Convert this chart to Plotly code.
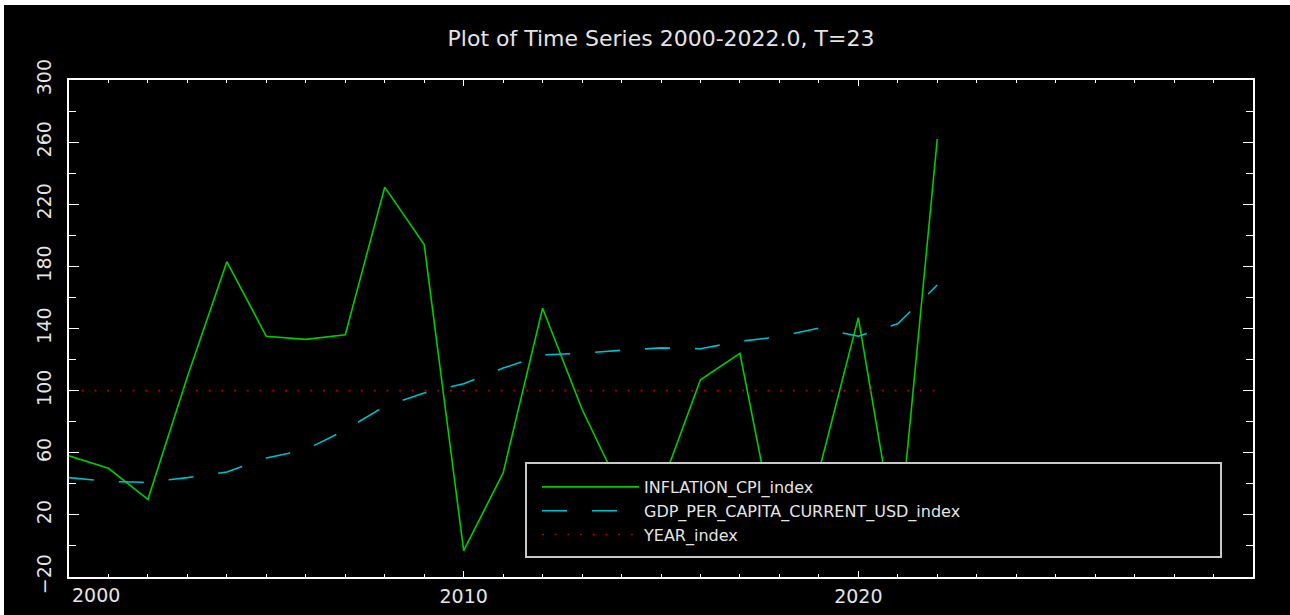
import plotly.graph_objects as go

# Annual series, 2000-2022 (T=23)
years = list(range(2000, 2023))
inflation_cpi_index = [58, 50, 30, 109, 183, 135, 133, 136, 231, 194, -3, 47,
                       153, 88, 35, 38, 107, 124, -5, 48, 147, -3, 262]
gdp_per_capita_current_usd_index = [44, 41.5, 41, 44, 47.6, 56.6, 62, 74.6, 90, 98.5,
                                    104.4, 114.5, 123, 124, 126, 127.5, 127, 131.7,
                                    134.7, 140.3, 135, 143, 168]
year_index = [100] * 23

x_range = [2000, 2030]
y_range = [-20, 300]
x_major_ticks = [2010, 2020]
y_major_ticks = [-20, 20, 60, 100, 140, 180, 220, 260, 300]

W, H = 1290, 615
L, R, T, B = 69, 37, 80, 38
PW, PH = W - L - R, H - T - B

TXT = "#e4e4e4"
FONT = "DejaVu Sans"


def px_x(px):
    return (px - L) / PW


def px_y(py):
    return (H - B - py) / PH


fig = go.Figure()
fig.add_trace(go.Scatter(
    x=years, y=inflation_cpi_index, mode="lines", name="INFLATION_CPI_index",
    line=dict(color="#00cc00", width=1.6)))
fig.add_trace(go.Scatter(
    x=years, y=gdp_per_capita_current_usd_index, mode="lines",
    name="GDP_PER_CAPITA_CURRENT_USD_index",
    line=dict(color="#00bfcc", width=1.6, dash="25px,25px")))
fig.add_trace(go.Scatter(
    x=years, y=year_index, mode="lines", name="YEAR_index",
    line=dict(color="#b40000", width=1.6, dash="2px,10.7px")))

axis_common = dict(
    showgrid=False, zeroline=False, showline=True, linecolor="white",
    linewidth=2, mirror="ticks", ticks="inside", tickcolor="white",
    automargin=False,
    tickfont=dict(family=FONT, size=19, color=TXT),
)

fig.update_xaxes(
    range=x_range, tickmode="array", tickvals=x_major_ticks,
    ticklen=6, tickwidth=1,
    minor=dict(tick0=2000, dtick=1, ticks="inside", ticklen=3,
               tickcolor="white", tickwidth=1),
    ticklabelstandoff=1,
    **axis_common)
fig.update_yaxes(
    range=y_range, tickmode="array", tickvals=y_major_ticks,
    ticklen=10, tickwidth=1, tickangle=-90,
    minor=dict(tick0=0, dtick=20, ticks="inside", ticklen=7,
               tickcolor="white", tickwidth=1),
    ticklabelstandoff=8,
    **axis_common)

# First year label sits just inside the left end of the axis
fig.add_annotation(
    x=x_range[0], y=0, xref="x", yref="paper", text="2000",
    showarrow=False, xanchor="left", yanchor="top", xshift=1, yshift=-5,
    font=dict(family=FONT, size=19, color=TXT))

fig.update_layout(
    width=W, height=H,
    margin=dict(l=L, r=R, t=T, b=B, pad=0, autoexpand=False),
    paper_bgcolor="black", plot_bgcolor="black",
    title=dict(text="Plot of Time Series 2000-2022.0, T=23",
               x=0.5, xref="paper", xanchor="center",
               y=1 - 38 / H, yref="container", yanchor="middle",
               font=dict(family=FONT, size=22, color=TXT)),
    showlegend=True,
    legend=dict(
        x=px_x(537), y=px_y(470), xanchor="left", yanchor="top",
        bgcolor="rgba(0,0,0,0)", borderwidth=0,
        font=dict(family=FONT, size=16, color=TXT),
        itemwidth=97, traceorder="normal"),
    shapes=[
        # legend panel: opaque box with a grey frame over the data
        dict(type="rect", xref="paper", yref="paper", layer="above",
             x0=px_x(526), x1=px_x(1221), y0=px_y(557), y1=px_y(463),
             fillcolor="black", line=dict(color="#c8c8c8", width=2)),
        # white page edge along the left and top
        dict(type="rect", xref="paper", yref="paper", layer="above",
             x0=px_x(-2), x1=px_x(4), y0=px_y(H + 2), y1=px_y(-2),
             fillcolor="white", line=dict(width=0)),
        dict(type="rect", xref="paper", yref="paper", layer="above",
             x0=px_x(-2), x1=px_x(W + 2), y0=px_y(5), y1=px_y(-2),
             fillcolor="white", line=dict(width=0)),
    ],
)

fig.write_html("out.html")
